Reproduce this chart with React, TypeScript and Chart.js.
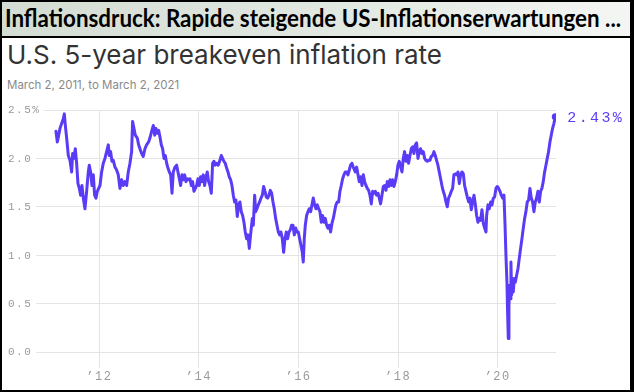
import React, { useEffect, useLayoutEffect, useRef } from "react";
import { Chart, registerables } from "chart.js";

Chart.register(...registerables);

const bannerText = "Inflationsdruck: Rapide steigende US-Inflationserwartungen ...";
const chartTitle = "U.S. 5-year breakeven inflation rate";
const chartSubtitle = "March 2, 2011, to March 2, 2021";

// fractional year of each observation
const dates = [
  2011.13, 2011.157, 2011.177, 2011.211, 2011.244, 2011.278, 2011.298, 2011.318, 2011.345, 2011.378,
  2011.411, 2011.445, 2011.465, 2011.492, 2011.518, 2011.545, 2011.572, 2011.599, 2011.625, 2011.652,
  2011.679, 2011.712, 2011.746, 2011.779, 2011.799, 2011.826, 2011.853, 2011.88, 2011.906, 2011.933,
  2011.96, 2011.987, 2012.014, 2012.047, 2012.08, 2012.114, 2012.147, 2012.181, 2012.201, 2012.228,
  2012.254, 2012.281, 2012.315, 2012.348, 2012.381, 2012.415, 2012.448, 2012.482, 2012.515, 2012.549,
  2012.582, 2012.616, 2012.649, 2012.669, 2012.696, 2012.723, 2012.763, 2012.79, 2012.816, 2012.85,
  2012.883, 2012.917, 2012.95, 2012.99, 2013.017,
  2013.051, 2013.085, 2013.112, 2013.138, 2013.165, 2013.192, 2013.219, 2013.245, 2013.272, 2013.299,
  2013.326, 2013.353, 2013.379, 2013.406, 2013.433, 2013.46, 2013.486, 2013.52, 2013.553, 2013.58,
  2013.607, 2013.633, 2013.66, 2013.687, 2013.714, 2013.741, 2013.767, 2013.794, 2013.821, 2013.848,
  2013.874, 2013.901, 2013.928, 2013.955, 2013.981, 2014.008, 2014.035, 2014.062, 2014.088, 2014.115,
  2014.142, 2014.169, 2014.195, 2014.222, 2014.249, 2014.276, 2014.302, 2014.329, 2014.356, 2014.389,
  2014.423, 2014.45, 2014.476, 2014.503, 2014.53, 2014.557, 2014.584, 2014.61, 2014.637, 2014.664,
  2014.691, 2014.717, 2014.744, 2014.771, 2014.798, 2014.824, 2014.851, 2014.878, 2014.905, 2014.931,
  2014.958, 2014.985, 2015.012, 2015.038,
  2015.073, 2015.093, 2015.12, 2015.14, 2015.166, 2015.193, 2015.22, 2015.247, 2015.274, 2015.3,
  2015.327, 2015.354, 2015.381, 2015.407, 2015.434, 2015.461, 2015.488, 2015.514, 2015.541, 2015.568,
  2015.595, 2015.621, 2015.648, 2015.675, 2015.702, 2015.728, 2015.755, 2015.782, 2015.809, 2015.835,
  2015.862, 2015.889, 2015.916, 2015.943, 2015.969, 2015.996, 2016.023, 2016.05, 2016.076, 2016.096,
  2016.116, 2016.137, 2016.163, 2016.19, 2016.217, 2016.244, 2016.27, 2016.297, 2016.324, 2016.351,
  2016.377, 2016.404, 2016.431, 2016.458, 2016.484, 2016.511, 2016.538, 2016.565, 2016.591, 2016.618,
  2016.645, 2016.672, 2016.699, 2016.725, 2016.752, 2016.779, 2016.806, 2016.832, 2016.859, 2016.886,
  2016.913, 2016.939, 2016.966, 2016.993, 2017.02, 2017.046, 2017.073, 2017.1,
  2017.141, 2017.168, 2017.195, 2017.221, 2017.248, 2017.275, 2017.302, 2017.328, 2017.355, 2017.382,
  2017.409, 2017.435, 2017.462, 2017.489, 2017.516, 2017.542, 2017.569, 2017.596, 2017.623, 2017.649,
  2017.676, 2017.703, 2017.73, 2017.757, 2017.783, 2017.81, 2017.837, 2017.864, 2017.89, 2017.917,
  2017.944, 2017.971, 2017.997, 2018.024, 2018.051, 2018.078, 2018.104, 2018.131, 2018.158, 2018.185,
  2018.211, 2018.238, 2018.265, 2018.292, 2018.318, 2018.345, 2018.372, 2018.399, 2018.426, 2018.452,
  2018.479, 2018.506, 2018.533, 2018.559, 2018.586, 2018.613, 2018.64, 2018.666, 2018.693, 2018.72,
  2018.747, 2018.773, 2018.8, 2018.827, 2018.854, 2018.88, 2018.907, 2018.934, 2018.961, 2018.988,
  2019.014, 2019.041, 2019.068, 2019.095, 2019.121,
  2019.149, 2019.176, 2019.203, 2019.229, 2019.256, 2019.283, 2019.31, 2019.336, 2019.363, 2019.39,
  2019.417, 2019.443, 2019.47, 2019.497, 2019.524, 2019.55, 2019.577, 2019.604, 2019.631, 2019.657,
  2019.684, 2019.711, 2019.738, 2019.765, 2019.778, 2019.805, 2019.831, 2019.858, 2019.885, 2019.912,
  2019.938, 2019.965, 2019.992, 2020.019, 2020.046, 2020.072, 2020.099, 2020.126, 2020.146, 2020.166,
  2020.186, 2020.199, 2020.213, 2020.226, 2020.24, 2020.253, 2020.266, 2020.28, 2020.293, 2020.313,
  2020.333, 2020.353, 2020.38, 2020.407, 2020.434, 2020.46, 2020.487, 2020.514, 2020.541, 2020.567,
  2020.594, 2020.621, 2020.648, 2020.674, 2020.701, 2020.728, 2020.755, 2020.781, 2020.808, 2020.835,
  2020.862, 2020.888, 2020.915, 2020.942, 2020.969, 2020.995, 2021.022, 2021.049, 2021.075, 2021.102,
  2021.129, 2021.156,
];

// 5-year breakeven inflation rate, percent
const rates = [
  2.28, 2.17, 2.22, 2.31, 2.36, 2.41, 2.46, 2.34, 2.21, 2.03,
  1.98, 1.86, 2.05, 2.0, 2.1, 1.95, 1.74, 1.69, 1.62, 1.72,
  1.59, 1.48, 1.66, 1.86, 1.93, 1.86, 1.72, 1.83, 1.62, 1.59,
  1.66, 1.69, 1.72, 1.86, 1.95, 2.0, 2.07, 2.14, 2.03, 2.07,
  1.97, 1.98, 1.91, 1.88, 1.83, 1.69, 1.78, 1.72, 1.76, 1.72,
  1.86, 1.95, 2.07, 2.38, 2.31, 2.24, 2.21, 2.14, 2.1, 2.05,
  2.02, 2.1, 2.14, 2.17, 2.21,
  2.28, 2.34, 2.24, 2.31, 2.26, 2.29, 2.22, 2.14, 2.1, 2.0,
  2.03, 1.95, 1.9, 1.86, 1.83, 1.64, 1.86, 1.91, 1.93, 1.86,
  1.79, 1.72, 1.83, 1.78, 1.83, 1.76, 1.79, 1.78, 1.79, 1.72,
  1.76, 1.66, 1.69, 1.72, 1.79, 1.72, 1.81, 1.76, 1.83, 1.72,
  1.81, 1.86, 1.76, 1.72, 1.64, 1.95, 1.97, 1.93, 1.95, 1.93,
  1.98, 2.03, 2.0, 1.97, 1.95, 1.9, 1.86, 1.81, 1.78, 1.72,
  1.62, 1.55, 1.57, 1.4, 1.52, 1.55, 1.45, 1.41, 1.34, 1.24,
  1.17, 1.21, 1.07, 1.21,
  1.38, 1.31, 1.62, 1.45, 1.48, 1.52, 1.55, 1.59, 1.62, 1.71,
  1.66, 1.6, 1.59, 1.62, 1.67, 1.64, 1.55, 1.48, 1.38, 1.31,
  1.24, 1.21, 1.24, 1.17, 1.03, 1.17, 1.24, 1.17, 1.24, 1.26,
  1.31, 1.31, 1.21, 1.28, 1.24, 1.24, 1.17, 1.1, 1.03, 0.93,
  1.17, 1.31, 1.41, 1.45, 1.48, 1.45, 1.52, 1.59, 1.52, 1.48,
  1.52, 1.48, 1.45, 1.34, 1.41, 1.34, 1.38, 1.31, 1.28, 1.31,
  1.24, 1.33, 1.38, 1.45, 1.52, 1.55, 1.55, 1.66, 1.72, 1.79,
  1.83, 1.86, 1.86, 1.83, 1.88, 1.93, 1.95, 1.91,
  1.86, 1.91, 1.83, 1.76, 1.81, 1.72, 1.83, 1.76, 1.72, 1.69,
  1.67, 1.62, 1.53, 1.66, 1.64, 1.66, 1.62, 1.64, 1.59, 1.53,
  1.62, 1.71, 1.72, 1.67, 1.76, 1.71, 1.78, 1.72, 1.78, 1.71,
  1.76, 1.83, 1.93, 1.97, 1.91, 1.86, 2.0, 2.07, 1.97, 2.03,
  1.95, 2.03, 2.1, 2.12, 2.05, 2.14, 2.16, 2.0, 2.07, 2.1,
  2.05, 2.07, 2.0, 1.98, 1.97, 1.98, 1.98, 2.02, 2.03, 2.07,
  2.03, 1.98, 1.93, 1.86, 1.79, 1.72, 1.66, 1.62, 1.55, 1.5,
  1.59, 1.62, 1.66, 1.69, 1.83,
  1.84, 1.83, 1.86, 1.74, 1.83, 1.86, 1.84, 1.72, 1.66, 1.6,
  1.55, 1.59, 1.47, 1.55, 1.62, 1.53, 1.41, 1.34, 1.38, 1.36,
  1.47, 1.33, 1.28, 1.24, 1.41, 1.52, 1.48, 1.55, 1.52, 1.59,
  1.6, 1.69, 1.71, 1.69, 1.66, 1.62, 1.59, 1.62, 1.34, 1.0,
  0.72, 0.41, 0.14, 0.48, 0.69, 0.55, 0.93, 0.59, 0.76, 0.62,
  0.76, 0.72, 0.79, 0.86, 0.97, 1.07, 1.17, 1.28, 1.38, 1.45,
  1.55, 1.57, 1.69, 1.59, 1.55, 1.45, 1.55, 1.59, 1.66, 1.55,
  1.66, 1.69, 1.76, 1.86, 1.93, 2.0, 2.07, 2.17, 2.24, 2.31,
  2.36, 2.43,
];

const yTickValues = [0, 0.5, 1, 1.5, 2, 2.5];
const yTickLabels = ["0.0", "0.5", "1.0", "1.5", "2.0", "2.5%"];
const xTickYears = [2012, 2014, 2016, 2018, 2020];
const xTickLabels = ["\u201912", "\u201914", "\u201916", "\u201918", "\u201920"];
const lastLabel = "2.43%";

const LINE_COLOR = "#5b3cf6";
const GRID_COLOR = "#e4e4e4";
const TICK_COLOR = "#9a9a9a";
const MONO = '"Liberation Mono", "DejaVu Sans Mono", monospace';

const spacingPlugin = {
  id: "tickSpacing",
  beforeDraw(chart: any) {
    chart.ctx.letterSpacing = "1.5px";
  },
};

// y-axis labels, left-aligned at the page margin with a white backing
const yLabelPlugin = {
  id: "yLabels",
  beforeDatasetsDraw(chart: any) {
    const ctx = chart.ctx;
    const ys = chart.scales.y;
    ctx.save();
    ctx.font = `11px ${MONO}`;
    ctx.letterSpacing = "1.5px";
    ctx.textAlign = "left";
    ctx.textBaseline = "middle";
    yTickValues.forEach((v, i) => {
      const y = ys.getPixelForValue(v);
      const label = yTickLabels[i];
      const w = ctx.measureText(label).width;
      ctx.fillStyle = "#ffffff";
      ctx.fillRect(8, y - 6, w + 4, 12);
      ctx.fillStyle = TICK_COLOR;
      ctx.fillText(label, 8, y + 0.5);
    });
    ctx.restore();
  },
};

const endLabelPlugin = {
  id: "endLabel",
  afterDatasetsDraw(chart: any) {
    const meta = chart.getDatasetMeta(0);
    const pt = meta.data[meta.data.length - 1];
    if (!pt) return;
    const ctx = chart.ctx;
    ctx.save();
    ctx.letterSpacing = "2.4px";
    ctx.font = `15px ${MONO}`;
    ctx.fillStyle = LINE_COLOR;
    ctx.textAlign = "left";
    ctx.textBaseline = "middle";
    ctx.fillText(lastLabel, pt.x + 12, pt.y + 1);
    ctx.restore();
  },
};

export default function App() {
  const canvasRef = useRef<HTMLCanvasElement>(null);
  const bannerRef = useRef<HTMLSpanElement>(null);

  useLayoutEffect(() => {
    const fit = () => {
      const el = bannerRef.current;
      if (!el) return;
      el.style.transform = "none";
      const w = el.getBoundingClientRect().width;
      if (w > 0) el.style.transform = `scaleX(${616 / w})`;
    };
    fit();
    if ((document as any).fonts && (document as any).fonts.ready) {
      (document as any).fonts.ready.then(fit);
    }
  }, []);

  useEffect(() => {
    const canvas = canvasRef.current;
    if (!canvas) return;
    const points = dates.map((d, i) => ({ x: d, y: rates[i] }));
    const last = points.length - 1;
    const chart = new Chart(canvas, {
      type: "line",
      data: {
        datasets: [
          {
            data: points,
            borderColor: LINE_COLOR,
            backgroundColor: LINE_COLOR,
            borderWidth: 3,
            borderJoinStyle: "round",
            borderCapStyle: "round",
            pointRadius: (c: any) => (c.dataIndex === last ? 3.5 : 0),
            pointHoverRadius: 0,
            pointBorderWidth: 0,
            tension: 0,
            fill: false,
          } as any,
        ],
      },
      options: {
        animation: false,
        responsive: false,
        devicePixelRatio: 1,
        events: [],
        layout: { padding: { left: 8, right: 78, top: 14, bottom: 0 } },
        plugins: { legend: { display: false }, tooltip: { enabled: false } },
        scales: {
          x: {
            type: "linear",
            min: 2010.689,
            max: 2021.171,
            afterBuildTicks: (s: any) => {
              s.ticks = xTickYears.map((v) => ({ value: v }));
            },
            afterFit: (s: any) => {
              s.height = 38;
            },
            grid: { color: GRID_COLOR, lineWidth: 1, tickLength: 16, drawTicks: true },
            border: { display: false },
            ticks: {
              autoSkip: false,
              maxRotation: 0,
              padding: 2,
              color: TICK_COLOR,
              font: { family: MONO, size: 12 },
              callback: (v: any) => {
                const i = xTickYears.indexOf(Number(v));
                return i >= 0 ? xTickLabels[i] : "";
              },
            },
          },
          y: {
            min: 0,
            max: 2.5,
            afterBuildTicks: (s: any) => {
              s.ticks = yTickValues.map((v) => ({ value: v }));
            },
            afterFit: (s: any) => {
              s.width = 26;
            },
            grid: { color: GRID_COLOR, lineWidth: 1, drawTicks: false },
            border: { display: false },
            ticks: { display: false },
          },
        },
      } as any,
      plugins: [spacingPlugin, yLabelPlugin, endLabelPlugin],
    });
    return () => chart.destroy();
  }, []);

  return (
    <div
      style={{
        position: "fixed",
        left: 0,
        top: 0,
        width: 634,
        height: 392,
        background: "#ffffff",
        overflow: "hidden",
      }}
    >
      <div
        style={{
          position: "absolute",
          left: 0,
          top: 0,
          width: 634,
          height: 37,
          background: "linear-gradient(90deg, #d3dcd3 0%, #e2e8e2 55%, #f4f6f4 100%)",
        }}
      />
      <span
        ref={bannerRef}
        style={{
          position: "absolute",
          left: 5,
          top: 4,
          whiteSpace: "nowrap",
          transformOrigin: "0 0",
          fontFamily: "Lato, 'Open Sans', sans-serif",
          fontWeight: 700,
          fontSize: 24,
          lineHeight: "28px",
          color: "#000",
        }}
      >
        {bannerText}
      </span>
      <div style={{ position: "absolute", left: 0, top: 36, width: 634, height: 2, background: "#000" }} />
      <div
        style={{
          position: "absolute",
          left: 7,
          top: 40,
          whiteSpace: "nowrap",
          fontFamily: "Inter, 'Noto Sans', sans-serif",
          fontWeight: 400,
          fontSize: 26,
          lineHeight: "30px",
          color: "#333333",
        }}
      >
        {chartTitle}
      </div>
      <div
        style={{
          position: "absolute",
          left: 7,
          top: 78,
          whiteSpace: "nowrap",
          fontFamily: "Inter, 'Noto Sans', sans-serif",
          fontSize: 11.5,
          lineHeight: "14px",
          color: "#8a8a8a",
        }}
      >
        {chartSubtitle}
      </div>
      <canvas
        ref={canvasRef}
        width={634}
        height={294}
        style={{ position: "absolute", left: 0, top: 96, width: 634, height: 294 }}
      />
      <div style={{ position: "absolute", left: 0, top: 0, width: 634, height: 2, background: "#000" }} />
      <div style={{ position: "absolute", left: 0, top: 390, width: 634, height: 2, background: "#000" }} />
      <div style={{ position: "absolute", left: 0, top: 0, width: 2, height: 392, background: "#000" }} />
      <div style={{ position: "absolute", left: 630, top: 0, width: 4, height: 392, background: "#000" }} />
    </div>
  );
}
